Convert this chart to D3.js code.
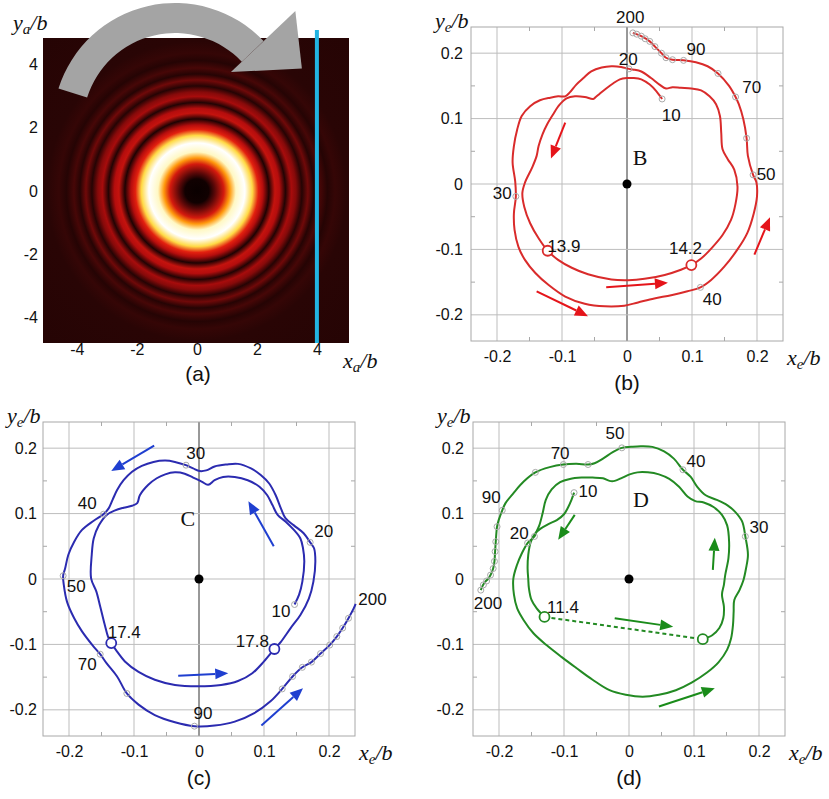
<!DOCTYPE html>
<html>
<head>
<meta charset="utf-8">
<script src="https://cdn.jsdelivr.net/npm/d3@7"></script>
<style>
body { margin: 0; background: #fff; }
text { font-family: "Liberation Sans", Arial, sans-serif; fill: #111; }
</style>
</head>
<body>
<script>
// ---------- (a) ring pattern: intensity along a radius (units of b)
var ringR = [0, 0.4, 0.6, 0.9, 1.1, 1.3, 1.6, 1.85, 2.05, 2.2, 2.4, 2.6, 2.75, 2.95, 3.15, 3.3, 3.5, 3.7, 3.9, 4.1, 4.35, 4.6, 5.0, 7.5];
var ringI = [0, 0.02, 0.2, 0.5, 0.75, 0.95, 1, 0.85, 0.55, 0.4, 0.06, 0.45, 0.4, 0.07, 0.37, 0.3, 0.08, 0.25, 0.08, 0.16, 0.08, 0.12, 0.09, 0.08];
var aTicks = [-4, -2, 0, 2, 4];
var cutX = 4;

// ---------- (b)-(d) shared ticks
var eTicks = [-0.2, -0.1, 0, 0.1, 0.2];
var eMinor = [-0.15, -0.05, 0.05, 0.15];

// ---------- (b) trajectory, time order 10 -> 200
var bPath = [
  [0.054,0.130],[0.045,0.142],[0.035,0.152],[0.022,0.160],[0.009,0.162],[0,0.162],[-0.011,0.160],[-0.021,0.154],[-0.032,0.146],[-0.042,0.138],[-0.048,0.133],[-0.052,0.130],
  [-0.065,0.133],[-0.080,0.134],[-0.093,0.131],[-0.104,0.121],[-0.114,0.106],[-0.123,0.091],[-0.130,0.076],[-0.136,0.058],[-0.139,0.043],[-0.146,0.025],[-0.157,0.002],
  [-0.161,-0.014],[-0.158,-0.035],[-0.149,-0.060],[-0.136,-0.083],[-0.122,-0.102],
  [-0.106,-0.116],[-0.085,-0.128],[-0.060,-0.138],[-0.024,-0.146],[0.002,-0.147],[0.027,-0.145],[0.058,-0.139],[0.083,-0.131],[0.099,-0.124],
  [0.114,-0.114],[0.132,-0.096],[0.147,-0.078],[0.160,-0.055],[0.167,-0.030],[0.170,-0.004],[0.165,0.022],[0.155,0.038],[0.147,0.053],[0.145,0.078],[0.143,0.104],[0.137,0.122],[0.127,0.134],[0.114,0.143],[0.099,0.146],[0.083,0.147],[0.070,0.148],[0.060,0.146],[0.050,0.152],[0.037,0.162],[0.022,0.172],[0.009,0.175],[0.003,0.176],
  [-0.009,0.179],[-0.024,0.180],[-0.039,0.178],[-0.055,0.172],[-0.067,0.162],[-0.078,0.152],[-0.088,0.140],[-0.095,0.134],[-0.106,0.134],[-0.118,0.132],[-0.134,0.128],[-0.149,0.119],[-0.162,0.104],[-0.169,0.083],[-0.174,0.058],[-0.176,0.033],[-0.172,0.004],[-0.171,-0.019],
  [-0.174,-0.045],[-0.173,-0.070],[-0.167,-0.096],[-0.157,-0.116],[-0.141,-0.136],[-0.121,-0.154],[-0.095,-0.172],[-0.065,-0.183],[-0.034,-0.187],[-0.004,-0.186],[0.017,-0.181],[0.042,-0.175],[0.068,-0.170],[0.093,-0.164],[0.113,-0.158],
  [0.129,-0.147],[0.150,-0.126],[0.170,-0.100],[0.185,-0.075],[0.195,-0.045],[0.200,-0.019],[0.199,0.003],[0.194,0.014],
  [0.186,0.043],[0.184,0.070],[0.179,0.099],[0.172,0.122],[0.167,0.133],
  [0.157,0.150],[0.140,0.169],[0.124,0.180],[0.106,0.186],[0.087,0.189],
  [0.070,0.190],[0.060,0.193],[0.053,0.200],[0.043,0.210],[0.035,0.218],[0.022,0.226],[0.009,0.231]
];
var bMarks = [[0.054,0.130],[0.003,0.176],[-0.171,-0.019],[0.113,-0.158],[0.194,0.014],[0.184,0.070],[0.167,0.133],[0.140,0.169],[0.087,0.189],[0.070,0.190],[0.060,0.193],[0.053,0.200],[0.043,0.210],[0.035,0.218],[0.028,0.222],[0.022,0.226],[0.015,0.229],[0.009,0.231]];
var bOpen = [[-0.122,-0.102],[0.099,-0.124]];
var bLabels = [['200',0.005,0.255],['90',0.106,0.206],['20',0.002,0.191],['70',0.192,0.148],['10',0.068,0.105],['50',0.214,0.015],['30',-0.192,-0.014],['13.9',-0.097,-0.095],['14.2',0.090,-0.098],['40',0.131,-0.177]];
var bArrows = [[[-0.095,0.094],[-0.117,0.039]],[[-0.032,-0.158],[0.063,-0.151]],[[-0.139,-0.164],[-0.060,-0.202]],[[0.196,-0.108],[0.220,-0.051]]];

// ---------- (c) trajectory, time order 10 -> 200
var cPath = [
  [0.147,-0.039],[0.154,-0.024],[0.159,-0.004],[0.162,0.027],[0.160,0.047],[0.156,0.062],[0.146,0.075],[0.133,0.088],[0.121,0.098],[0.113,0.113],[0.105,0.128],[0.093,0.141],[0.075,0.151],[0.055,0.156],[0.037,0.156],[0.024,0.151],[0.014,0.144],[0.004,0.149],[-0.009,0.155],[-0.022,0.161],[-0.037,0.163],[-0.052,0.160],[-0.065,0.154],[-0.078,0.144],[-0.091,0.128],[-0.095,0.116],[-0.103,0.112],[-0.116,0.109],[-0.129,0.105],[-0.142,0.098],[-0.154,0.082],[-0.162,0.062],[-0.165,0.037],[-0.166,0.001],[-0.158,-0.019],[-0.152,-0.042],[-0.145,-0.070],[-0.140,-0.088],[-0.135,-0.098],
  [-0.126,-0.111],[-0.114,-0.126],[-0.093,-0.142],[-0.068,-0.154],[-0.037,-0.162],[-0.002,-0.164],[0.034,-0.162],[0.060,-0.156],[0.082,-0.144],[0.100,-0.126],[0.116,-0.107],
  [0.126,-0.096],[0.141,-0.075],[0.156,-0.055],[0.169,-0.030],[0.176,-0.004],[0.179,0.027],[0.177,0.047],[0.171,0.056],
  [0.161,0.070],[0.146,0.082],[0.133,0.093],[0.126,0.108],[0.118,0.128],[0.108,0.146],[0.095,0.159],[0.080,0.169],[0.060,0.176],[0.042,0.175],[0.024,0.172],[0.011,0.166],[0.001,0.165],[-0.009,0.169],[-0.020,0.174],
  [-0.037,0.179],[-0.052,0.181],[-0.070,0.179],[-0.088,0.173],[-0.103,0.164],[-0.116,0.151],[-0.126,0.136],[-0.133,0.121],[-0.139,0.108],[-0.147,0.099],
  [-0.162,0.089],[-0.180,0.075],[-0.192,0.057],[-0.201,0.037],[-0.206,0.016],[-0.209,0.005],
  [-0.208,-0.009],[-0.203,-0.035],[-0.192,-0.060],[-0.180,-0.080],[-0.164,-0.101],[-0.152,-0.115],
  [-0.142,-0.129],[-0.126,-0.149],[-0.111,-0.175],[-0.093,-0.192],[-0.068,-0.208],[-0.037,-0.219],[-0.007,-0.225],
  [0.024,-0.224],[0.055,-0.218],[0.085,-0.205],[0.110,-0.187],[0.128,-0.168],[0.144,-0.149],[0.159,-0.135],[0.173,-0.127],[0.187,-0.114],[0.201,-0.101],[0.212,-0.088],[0.221,-0.075],[0.230,-0.060],[0.238,-0.045],[0.241,-0.038]
];
var cMarks = [[0.147,-0.039],[0.171,0.056],[-0.020,0.174],[-0.147,0.099],[-0.209,0.005],[-0.152,-0.115],[-0.111,-0.175],[-0.007,-0.225],[0.128,-0.168],[0.144,-0.149],[0.159,-0.135],[0.173,-0.127],[0.187,-0.114],[0.201,-0.101],[0.212,-0.088],[0.221,-0.075],[0.230,-0.060]];
var cOpen = [[-0.135,-0.098],[0.116,-0.107]];
var cLabels = [['30',-0.005,0.192],['40',-0.172,0.115],['20',0.192,0.072],['50',-0.189,-0.012],['10',0.126,-0.049],['200',0.267,-0.031],['17.4',-0.115,-0.082],['17.8',0.082,-0.095],['70',-0.172,-0.131],['90',0.006,-0.205]];
var cArrows = [[[-0.069,0.204],[-0.135,0.165]],[[0.115,0.050],[0.076,0.119]],[[-0.032,-0.148],[0.045,-0.144]],[[0.096,-0.224],[0.160,-0.167]]];

// ---------- (d) trajectory: 10 -> 11.4, jump, then -> 200
var dPathA = [[-0.0845,0.132],[-0.0885,0.121],[-0.094,0.109],[-0.100,0.099],[-0.111,0.090],[-0.124,0.084],[-0.136,0.077],[-0.144,0.070],[-0.151,0.057],[-0.155,0.037],[-0.156,0.016],[-0.155,0.000],[-0.154,-0.014],[-0.150,-0.032],[-0.142,-0.045],[-0.130,-0.058]];
var dPathB = [
  [0.1135,-0.092],[0.128,-0.086],[0.139,-0.075],[0.145,-0.060],[0.146,-0.042],[0.143,-0.024],[0.146,-0.009],[0.148,0.006],[0.153,0.032],[0.154,0.057],[0.151,0.082],[0.143,0.098],[0.130,0.110],[0.115,0.117],[0.102,0.119],[0.090,0.126],[0.077,0.141],[0.062,0.153],[0.046,0.160],[0.029,0.163],[0.013,0.163],[0.001,0.160],[-0.010,0.155],[-0.022,0.150],[-0.030,0.150],[-0.040,0.154],[-0.056,0.155],[-0.073,0.155],[-0.091,0.153],[-0.106,0.148],[-0.119,0.137],[-0.128,0.121],[-0.133,0.100],[-0.138,0.082],[-0.143,0.071],[-0.1455,0.065],
  [-0.156,0.055],[-0.165,0.039],[-0.1725,0.021],[-0.178,0.000],[-0.177,-0.024],[-0.172,-0.045],[-0.162,-0.063],[-0.147,-0.083],[-0.127,-0.101],[-0.104,-0.119],[-0.081,-0.136],[-0.056,-0.154],[-0.030,-0.170],[-0.005,-0.177],[0.021,-0.180],[0.046,-0.177],[0.072,-0.170],[0.097,-0.158],[0.120,-0.143],[0.138,-0.127],[0.151,-0.108],[0.157,-0.091],[0.160,-0.070],[0.161,-0.050],[0.162,-0.032],[0.170,-0.017],[0.176,-0.002],[0.180,0.016],[0.183,0.037],[0.179,0.065],
  [0.174,0.088],[0.163,0.103],[0.151,0.113],[0.135,0.121],[0.118,0.128],[0.105,0.141],[0.095,0.156],[0.083,0.167],
  [0.069,0.184],[0.054,0.195],[0.036,0.202],[0.018,0.203],[0.003,0.202],[-0.011,0.2005],
  [-0.025,0.194],[-0.040,0.184],[-0.053,0.177],[-0.063,0.175],[-0.081,0.176],[-0.101,0.175],
  [-0.122,0.171],[-0.144,0.163],[-0.162,0.149],[-0.178,0.131],[-0.190,0.116],[-0.195,0.105],
  [-0.2005,0.090],[-0.203,0.080],[-0.205,0.057],[-0.206,0.042],[-0.207,0.027],[-0.209,0.016],[-0.213,0.006],[-0.217,0.000],[-0.221,-0.004],[-0.225,-0.010],[-0.228,-0.017]
];
var dMarks = [[-0.0845,0.132],[-0.1455,0.065],[-0.156,0.055],[0.179,0.065],[0.083,0.167],[-0.011,0.2005],[-0.063,0.175],[-0.101,0.175],[-0.144,0.163],[-0.195,0.105],[-0.203,0.080],[-0.205,0.057],[-0.206,0.042],[-0.207,0.027],[-0.209,0.016],[-0.213,0.006],[-0.219,-0.003],[-0.224,-0.009],[-0.228,-0.017]];
var dOpen = [[-0.130,-0.058],[0.1135,-0.092]];
var dLabels = [['50',-0.0215,0.223],['70',-0.106,0.192],['40',0.103,0.180],['10',-0.063,0.134],['90',-0.212,0.125],['20',-0.169,0.069],['30',0.200,0.078],['200',-0.217,-0.038],['11.4',-0.1015,-0.043]];
var dArrows = [[[-0.0835,0.098],[-0.109,0.060]],[[0.129,0.014],[0.132,0.063]],[[-0.022,-0.060],[0.068,-0.073]],[[0.046,-0.195],[0.132,-0.167]]];

var svg = d3.select('body').append('svg').attr('width', 829).attr('height', 799);
var defs = svg.append('defs');

function axisTitle(g, px, py, main, sub) {
  var t = g.append('text').attr('x', px).attr('y', py)
    .style('font-family', '"Liberation Serif", "Times New Roman", serif')
    .style('font-style', 'italic').style('font-size', '22px');
  t.append('tspan').text(main);
  t.append('tspan').attr('dy', 4).style('font-size', '15px').text(sub);
  t.append('tspan').attr('dy', -4).text('/b');
}

// ================= panel (a)
var A = {left: 43, right: 349, top: 38, bottom: 343};
var xa = d3.scaleLinear().domain([-5.13, 5.07]).range([A.left, A.right]);
var ya = d3.scaleLinear().domain([-4.8, 4.83]).range([A.bottom, A.top]);
var hot = d3.scaleLinear()
  .domain([0, 0.1, 0.4, 0.55, 0.7, 0.82, 0.92, 1])
  .range(['#0a0000', '#2c0505', '#b50d0d', '#e3200f', '#ff7300', '#ffcf1f', '#fff4a0', '#ffffff']);
var rMax = ringR[ringR.length - 1];
var grad = defs.append('radialGradient').attr('id', 'rings')
  .attr('gradientUnits', 'userSpaceOnUse')
  .attr('cx', xa(0)).attr('cy', ya(0)).attr('r', xa(rMax) - xa(0));
grad.selectAll('stop').data(ringR).enter().append('stop')
  .attr('offset', function(d) { return d / rMax; })
  .attr('stop-color', function(d, i) { return hot(ringI[i]); });

var ga = svg.append('g');
ga.append('rect').attr('x', A.left).attr('y', A.top)
  .attr('width', A.right - A.left).attr('height', A.bottom - A.top)
  .attr('fill', 'url(#rings)');

// curved grey arrow (centre / radii in b units, angles in degrees)
var k = xa(1) - xa(0);
var arcC = [-0.73, 2.08];
var arcG = d3.arc().innerRadius(3.07 * k).outerRadius(4.07 * k)
  .startAngle(-72.6 * Math.PI / 180).endAngle(46.5 * Math.PI / 180);
var acx = xa(arcC[0]), acy = ya(arcC[1]);
function polar(r, deg) {
  var a = deg * Math.PI / 180;
  return [acx + r * k * Math.sin(a), acy - r * k * Math.cos(a)];
}
ga.append('path').attr('d', arcG()).attr('transform', 'translate(' + [acx, acy] + ')')
  .attr('fill', '#a4a4a4');
ga.append('path')
  .attr('d', 'M' + polar(2.57, 46.5) + 'L' + polar(5.53, 46.5) + 'L' + polar(4.63, 66) + 'Z')
  .attr('fill', '#a4a4a4');

ga.append('line').attr('x1', xa(cutX)).attr('x2', xa(cutX))
  .attr('y1', ya(5.08)).attr('y2', A.bottom)
  .attr('stroke', '#22b4e2').attr('stroke-width', 4);

var axA = ga.append('g').attr('transform', 'translate(0,' + A.bottom + ')')
  .call(d3.axisBottom(xa).tickValues(aTicks).tickSize(0).tickPadding(1).tickFormat(String));
var ayA = ga.append('g').attr('transform', 'translate(' + A.left + ',0)')
  .call(d3.axisLeft(ya).tickValues(aTicks).tickSize(0).tickPadding(5).tickFormat(String));
[axA, ayA].forEach(function(s) {
  s.select('.domain').remove();
  s.selectAll('text').style('font-size', '16px').style('font-family', '"Liberation Sans", Arial, sans-serif').attr('fill', '#111');
});
axisTitle(ga, 13, 30, 'y', 'a');
axisTitle(ga, 343, 368, 'x', 'a');
ga.append('text').attr('x', 198).attr('y', 381).attr('text-anchor', 'middle')
  .style('font-size', '21px').text('(a)');

// ================= panels (b)-(d)
function ePanel(p) {
  var x = d3.scaleLinear().domain([-0.24, 0.24]).range([p.left, p.right]);
  var y = d3.scaleLinear().domain([-0.24, 0.24]).range([p.bottom, p.top]);
  var g = svg.append('g');

  g.selectAll('.gx').data(eTicks).enter().append('line')
    .attr('x1', x).attr('x2', x).attr('y1', p.top).attr('y2', p.bottom)
    .attr('stroke', function(d) { return d === 0 && p.darkZero ? '#333' : '#bdbdbd'; })
    .attr('stroke-width', 1);
  g.selectAll('.gy').data(eTicks).enter().append('line')
    .attr('y1', y).attr('y2', y).attr('x1', p.left).attr('x2', p.right)
    .attr('stroke', '#bdbdbd').attr('stroke-width', 1);
  g.append('rect').attr('x', p.left).attr('y', p.top)
    .attr('width', p.right - p.left).attr('height', p.bottom - p.top)
    .attr('fill', 'none').attr('stroke', '#a8a8a8');
  // minor ticks on the frame
  g.selectAll('.mt').data(eMinor).enter().append('path')
    .attr('d', function(d) {
      return 'M' + p.left + ',' + y(d) + 'h4M' + p.right + ',' + y(d) + 'h-4' +
             'M' + x(d) + ',' + p.bottom + 'v-4M' + x(d) + ',' + p.top + 'v4';
    })
    .attr('stroke', '#a8a8a8');

  var ax = g.append('g').attr('transform', 'translate(0,' + p.bottom + ')')
    .call(d3.axisBottom(x).tickValues(eTicks).tickSize(0).tickPadding(10).tickFormat(String));
  var ay = g.append('g').attr('transform', 'translate(' + p.left + ',0)')
    .call(d3.axisLeft(y).tickValues(eTicks).tickSize(0).tickPadding(p.ypad).tickFormat(String));
  [ax, ay].forEach(function(s) {
    s.select('.domain').remove();
    s.selectAll('text').style('font-size', '16px').style('font-family', '"Liberation Sans", Arial, sans-serif').attr('fill', '#111');
  });

  var line = d3.line().x(function(d) { return x(d[0]); }).y(function(d) { return y(d[1]); })
    .curve(d3.curveCatmullRom.alpha(0.5));
  p.paths.forEach(function(pts) {
    g.append('path').attr('d', line(pts)).attr('fill', 'none')
      .attr('stroke', p.color).attr('stroke-width', 2).attr('stroke-linejoin', 'round');
  });
  if (p.jump) {
    g.append('line').attr('x1', x(p.jump[0][0])).attr('y1', y(p.jump[0][1]))
      .attr('x2', x(p.jump[1][0])).attr('y2', y(p.jump[1][1]))
      .attr('stroke', p.color).attr('stroke-width', 2).attr('stroke-dasharray', '4,3');
  }
  g.selectAll('.mk').data(p.marks).enter().append('circle')
    .attr('cx', function(d) { return x(d[0]); }).attr('cy', function(d) { return y(d[1]); })
    .attr('r', 3).attr('fill', 'none').attr('stroke', '#aaaaaa').attr('stroke-width', 1);
  g.selectAll('.op').data(p.open).enter().append('circle')
    .attr('cx', function(d) { return x(d[0]); }).attr('cy', function(d) { return y(d[1]); })
    .attr('r', 5).attr('fill', '#fff').attr('stroke', p.color).attr('stroke-width', 1.8);

  p.arrows.forEach(function(a) {
    var x0 = x(a[0][0]), y0 = y(a[0][1]), x1 = x(a[1][0]), y1 = y(a[1][1]);
    var ang = Math.atan2(y1 - y0, x1 - x0), L = 13, W = 5.5;
    var bx = x1 - L * Math.cos(ang), by = y1 - L * Math.sin(ang);
    g.append('line').attr('x1', x0).attr('y1', y0).attr('x2', bx).attr('y2', by)
      .attr('stroke', p.arrowColor).attr('stroke-width', 2);
    g.append('path').attr('d', 'M' + x1 + ',' + y1 +
        'L' + (bx + W * Math.sin(ang)) + ',' + (by - W * Math.cos(ang)) +
        'L' + (bx - W * Math.sin(ang)) + ',' + (by + W * Math.cos(ang)) + 'Z')
      .attr('fill', p.arrowColor);
  });

  g.append('circle').attr('cx', x(0)).attr('cy', y(0)).attr('r', 4.5).attr('fill', '#000');

  g.selectAll('.lb').data(p.labels).enter().append('text')
    .attr('x', function(d) { return x(d[1]); }).attr('y', function(d) { return y(d[2]); })
    .attr('text-anchor', 'middle').attr('dominant-baseline', 'central')
    .style('font-size', '17px').text(function(d) { return d[0]; });
  g.append('text').attr('x', x(p.letterAt[0])).attr('y', y(p.letterAt[1]))
    .attr('text-anchor', 'middle').attr('dominant-baseline', 'central')
    .style('font-family', '"Liberation Serif", "Times New Roman", serif').style('font-size', '22px')
    .text(p.letter);

  axisTitle(g, p.left - 36, p.top + 1, 'y', 'e');
  axisTitle(g, p.right + 4, p.bottom + 24, 'x', 'e');
  g.append('text').attr('x', x(0)).attr('y', p.bottom + 49).attr('text-anchor', 'middle')
    .style('font-size', '21px').text(p.tag);
}

ePanel({left: 471, right: 783, top: 27, bottom: 341, ypad: 8, darkZero: true,
  color: '#d92b2b', arrowColor: '#e5141a', paths: [bPath], marks: bMarks, open: bOpen,
  labels: bLabels, arrows: bArrows, letter: 'B', letterAt: [0.02, 0.04], tag: '(b)'});
ePanel({left: 43, right: 355, top: 422, bottom: 736, ypad: 6, darkZero: true,
  color: '#2b2bb0', arrowColor: '#1f3fd0', paths: [cPath], marks: cMarks, open: cOpen,
  labels: cLabels, arrows: cArrows, letter: 'C', letterAt: [-0.017, 0.093], tag: '(c)'});
ePanel({left: 473, right: 785, top: 422, bottom: 736, ypad: 9, darkZero: false,
  color: '#238a23', arrowColor: '#1a8c1a', paths: [dPathA, dPathB], marks: dMarks, open: dOpen,
  jump: [dPathA[dPathA.length - 1], dPathB[0]],
  labels: dLabels, arrows: dArrows, letter: 'D', letterAt: [0.0185, 0.122], tag: '(d)'});
</script>
</body>
</html>
